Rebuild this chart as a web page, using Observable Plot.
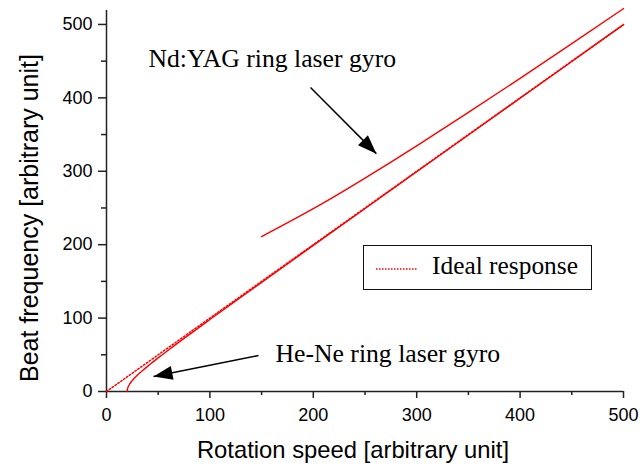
<!DOCTYPE html>
<html><head><meta charset="utf-8">
<script src="https://cdn.jsdelivr.net/npm/d3@7"></script>
<script src="https://cdn.jsdelivr.net/npm/@observablehq/plot@0.6"></script>
<style>
body{margin:0;background:#fff;}
#wrap{position:relative;width:641px;height:470px;}
#legend{position:absolute;left:363px;top:245px;width:229px;height:45px;box-sizing:border-box;border:1.5px solid #111;background:#fff;}
#legend svg{position:absolute;left:10px;top:20px;}
#legend span{position:absolute;left:68px;top:5px;font:25.4px "Liberation Serif","Times New Roman",serif;color:#000;white-space:nowrap;}
</style></head><body><div id="wrap"></div>
<script>
// ---- data ----
const idealX = [0, 500];
const idealY = [0, 500];
const heneX = [20, 20.2, 20.5, 21, 22, 24, 26, 30, 35, 40, 50, 60, 80, 100, 150, 200, 300, 400, 500];
const heneY = [0, 2.8, 4.5, 6.4, 9.2, 13.3, 16.6, 22.4, 28.7, 34.6, 45.8, 56.6, 77.5, 98.0, 148.7, 199.0, 299.3, 399.5, 499.6];
const ndyagX = [150, 200, 250, 300, 350, 400, 450, 500];
const ndyagY = [211, 249, 290.7, 334.7, 380.2, 426.6, 473.8, 521.6];
const xTicks = [0, 100, 200, 300, 400, 500];
const yTicks = [0, 100, 200, 300, 400, 500];
const minorTicks = [50, 150, 250, 350, 450];
const xLabel = "Rotation speed [arbitrary unit]";
const yLabel = "Beat frequency [arbitrary unit]";
const legendLabel = "Ideal response";
const noteLabels = ["Nd:YAG ring laser gyro", "He-Ne ring laser gyro"];
const noteX = [40.6, 163.4];
const noteY = [442.5, 40];
const arrowX1 = [197.3, 147];
const arrowY1 = [414, 49];
const arrowX2 = [261, 45.5];
const arrowY2 = [324, 20.4];

// ---- layout ----
const W = 641, H = 470, mL = 106, mR = 18, mT = 10, mB = 79;
const xDomain = [0, 500], yDomain = [0, 519];
const kx = (W - mL - mR) / (xDomain[1] - xDomain[0]);
const ky = (H - mT - mB) / (yDomain[1] - yDomain[0]);

const hene = heneX.map((x, i) => ({x, y: heneY[i]}));
const ndyag = ndyagX.map((x, i) => ({x, y: ndyagY[i]}));
const ideal = idealX.map((x, i) => ({x, y: idealY[i]}));
const notes = noteLabels.map((t, i) => ({t, x: noteX[i], y: noteY[i]}));
const arrows = arrowX1.map((x1, i) => {
  const dxp = (arrowX2[i] - x1) * kx, dyp = -(arrowY2[i] - arrowY1[i]) * ky;
  return {x1, y1: arrowY1[i], x2: arrowX2[i], y2: arrowY2[i], angle: Math.atan2(dxp, -dyp) * 180 / Math.PI};
});
const head = {draw(ctx) { ctx.moveTo(0, 0); ctx.lineTo(-7, 19); ctx.lineTo(7, 19); ctx.closePath(); }};

const sans = "'Liberation Sans', Arial, sans-serif";
const serif = "'Liberation Serif', 'Times New Roman', serif";

const chart = Plot.plot({
  width: W, height: H,
  marginLeft: mL, marginRight: mR, marginTop: mT, marginBottom: mB,
  x: {domain: xDomain, label: null},
  y: {domain: yDomain, label: null},
  style: {background: "#fff", color: "#000", overflow: "visible"},
  marks: [
    Plot.axisX(xTicks, {tickSize: 7, tickPadding: 10, fontSize: 18, fontFamily: sans, stroke: "#222", strokeWidth: 1.5, label: null}),
    Plot.axisX(minorTicks, {tickSize: 4, text: null, stroke: "#222", strokeWidth: 1.5, label: null}),
    Plot.axisY(yTicks, {tickSize: 8, tickPadding: 6, fontSize: 18, fontFamily: sans, stroke: "#222", strokeWidth: 1.5, label: null}),
    Plot.axisY(minorTicks, {tickSize: 5, text: null, stroke: "#222", strokeWidth: 1.5, label: null}),
    Plot.ruleY([yDomain[0]], {x1: xDomain[0], x2: xDomain[1], stroke: "#222", strokeWidth: 1.5}),
    Plot.ruleX([xDomain[0]], {y1: yDomain[0], y2: yDomain[1], stroke: "#222", strokeWidth: 1.5}),
    Plot.line(ideal, {x: "x", y: "y", stroke: "red", strokeWidth: 1.5, strokeDasharray: "1.5,2"}),
    Plot.line(hene, {x: "x", y: "y", stroke: "red", strokeWidth: 1.4, curve: "monotone-x"}),
    Plot.line(ndyag, {x: "x", y: "y", stroke: "red", strokeWidth: 1.4, curve: "natural", clip: false}),
    Plot.link(arrows, {x1: "x1", y1: "y1", x2: "x2", y2: "y2", stroke: "#000", strokeWidth: 1.5}),
    Plot.dot(arrows, {x: "x2", y: "y2", symbol: head, rotate: "angle", fill: "#000", stroke: "none"}),
    Plot.text(notes, {x: "x", y: "y", text: "t", textAnchor: "start", lineAnchor: "bottom", fontSize: 25.7, fontFamily: serif, fill: "#000"}),
    Plot.text([xLabel], {text: d => d, frameAnchor: "bottom", textAnchor: "middle", lineAnchor: "bottom", dx: -12, dy: 66, fontSize: 23.8, fontFamily: sans, fill: "#000"}),
    Plot.text([yLabel], {text: d => d, frameAnchor: "left", textAnchor: "middle", rotate: -90, lineAnchor: "bottom", dx: -69, dy: 17, fontSize: 25, fontFamily: sans, fill: "#000"})
  ]
});
const wrap = document.getElementById("wrap");
wrap.appendChild(chart);
const lg = document.createElement("div");
lg.id = "legend";
lg.innerHTML = `<svg width="46" height="6"><line x1="2" y1="3" x2="44" y2="3" stroke="red" stroke-width="1.5" stroke-dasharray="1.5,1.5"/></svg><span>${legendLabel}</span>`;
wrap.appendChild(lg);
</script></body></html>
